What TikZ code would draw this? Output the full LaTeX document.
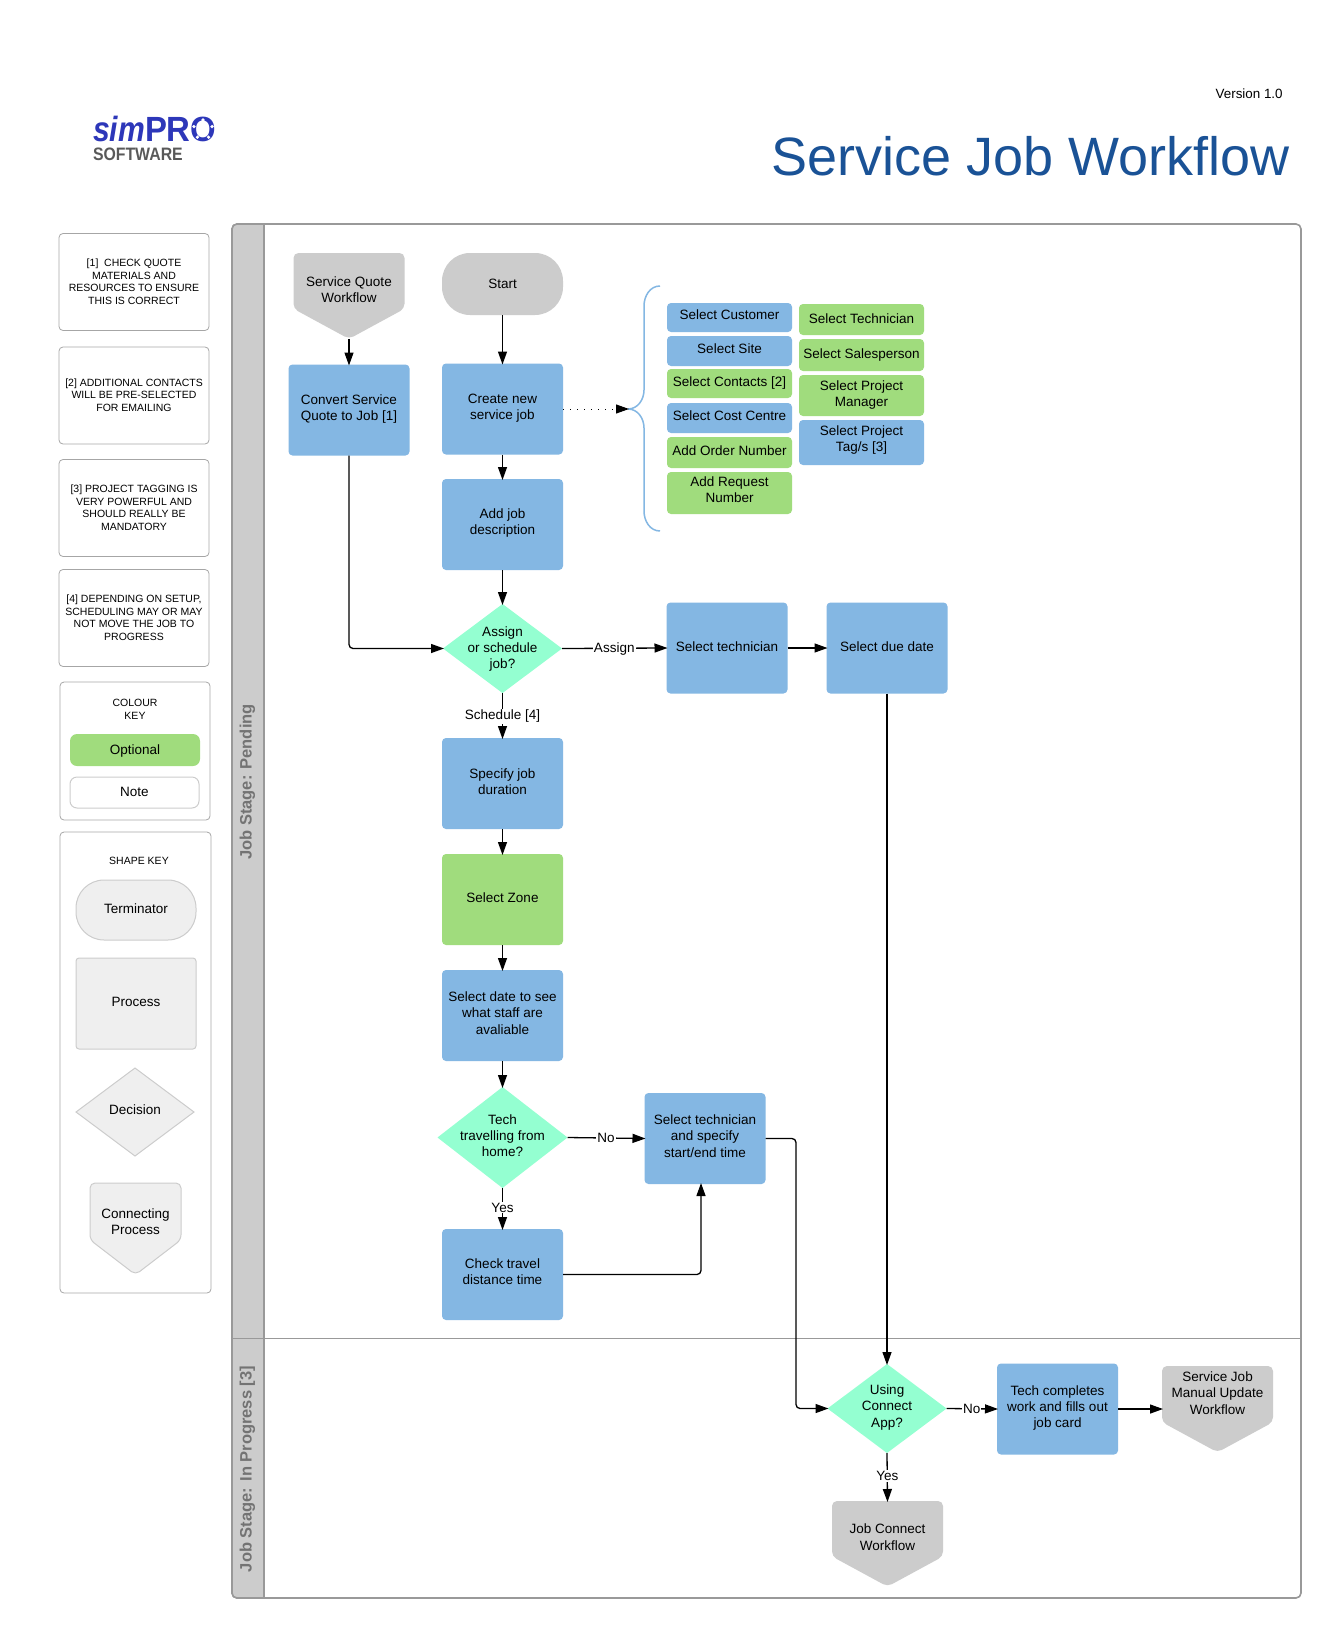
\documentclass[tikz,border=0pt]{standalone}
\usepackage{fontspec}
\setmainfont{Liberation Sans}
\usepackage{xcolor}
\usetikzlibrary{arrows.meta,shapes.geometric,shapes.symbols}
\definecolor{procblue}{RGB}{132,183,227}
\definecolor{optgreen}{RGB}{160,220,125}
\definecolor{decmint}{RGB}{148,255,209}
\definecolor{termgray}{RGB}{204,204,204}
\definecolor{keygray}{RGB}{239,239,239}
\definecolor{framegray}{RGB}{153,153,153}
\definecolor{titleblue}{RGB}{26,82,150}
\definecolor{logoblue}{RGB}{45,55,185}
\begin{document}
\begin{tikzpicture}[x=1pt,y=-1pt,
	every node/.style={outer sep=0pt,align=center,font=\fontsize{13.5}{16.2}\selectfont},
	proc/.style={rectangle,rounded corners=4pt,fill=procblue,minimum width=121pt,minimum height=91pt,text depth=5pt},
	smallbox/.style={rectangle,rounded corners=4pt,minimum width=125pt,inner sep=0pt,text depth=5pt},
	term/.style={rectangle,rounded corners=28pt,minimum width=121pt,minimum height=62pt,text depth=1pt},
	decision/.style={diamond,fill=decmint,inner sep=-22pt,minimum width=119pt,minimum height=89pt,text depth=5pt},
	connproc/.style={signal,signal to=south,signal pointer angle=123,rounded corners=5pt,fill=termgray,minimum width=111pt,minimum height=79pt,inner sep=0pt,anchor=north},
	notebox/.style={rectangle,draw=black!35,line width=.8pt,rounded corners=4pt,minimum width=150pt,minimum height=97pt,font=\fontsize{10.5}{12.5}\selectfont,text depth=1pt},
	flow/.style={draw,line width=1.3pt,shorten >=-1pt,-{Triangle[length=13pt,width=9pt]}},
	lbl/.style={fill=white,inner sep=1pt},
	lane/.style={rotate=90,text=black!55,font=\fontsize{16.5}{18}\bfseries\selectfont}]
	\useasboundingbox (0,0) rectangle (1324,1640);

	% header
	\node[anchor=east,font=\fontsize{13.4}{15}\selectfont] (version) at (1286,94) {Version 1.0};
	\node[anchor=east,text=titleblue,font=\fontsize{54}{60}\selectfont] (title) at (1293,156) {Service Job Workflow};
	\node[anchor=base west,text=logoblue,font=\fontsize{35}{35}\bfseries\itshape\selectfont,inner sep=0pt,xscale=.86] (logosim) at (93,142) {sim};
	\node[anchor=base west,text=logoblue,font=\fontsize{35}{35}\bfseries\selectfont,inner sep=0pt,xscale=.94] (logopro) at (145,142) {PRO};
	\foreach \a in {18,90,162,234,306}
		\fill[white] (203,129.5) ++(\a:-9.5) circle (1.8);
	\node[anchor=base west,text=black!65,font=\fontsize{18}{18}\bfseries\selectfont,inner sep=0pt,xscale=.88] (logosoft) at (93,161) {SOFTWARE};

	% swimlane frame
	\draw[draw=framegray,line width=1.6pt,rounded corners=5pt,fill=white] (232,224) rectangle (1301,1598);
	\draw[draw=framegray,line width=1.6pt,fill=termgray] (264,224) -- (237,224) to[out=180,in=90] (232,229) -- (232,1593) to[out=-90,in=180] (237,1598) -- (264,1598) -- cycle;
	\draw[draw=framegray,line width=1pt] (232,1338) -- (1301,1338);
	\node[lane] (pending) at (247.5,782) {Job Stage: Pending};
	\node[lane] (progress) at (247.5,1469) {Job Stage: In Progress [3]};

	% notes
	\node[notebox] (note1) at (134,282) {[1]\ \ CHECK QUOTE\\MATERIALS AND\\RESOURCES TO ENSURE\\THIS IS CORRECT};
	\node[notebox] (note2) at (134,395.5) {[2] ADDITIONAL CONTACTS\\WILL BE PRE-SELECTED\\FOR EMAILING};
	\node[notebox] (note3) at (134,508) {[3] PROJECT TAGGING IS\\VERY POWERFUL AND\\SHOULD REALLY BE\\MANDATORY};
	\node[notebox] (note4) at (134,618) {[4] DEPENDING ON SETUP,\\SCHEDULING MAY OR MAY\\NOT MOVE THE JOB TO\\PROGRESS};

	% colour key
	\node[notebox,minimum height=138pt] (colourbg) at (135,751) {};
	\node[font=\fontsize{10.5}{12.5}\selectfont] (colourkey) at (135,709.5) {COLOUR\\KEY};
	\node[rectangle,rounded corners=7pt,fill=optgreen,minimum width=130pt,minimum height=32pt,text depth=1pt] (optional) at (135,750) {Optional};
	\node[rectangle,rounded corners=7pt,draw=black!20,line width=1pt,minimum width=129pt,minimum height=31pt,text depth=2pt] (notekey) at (134.5,792.5) {Note};

	% shape key
	\node[notebox,minimum width=151pt,minimum height=461pt] (shapebg) at (135.5,1062.5) {};
	\node[font=\fontsize{10.5}{12.5}\selectfont] (shapekey) at (139,861) {SHAPE KEY};
	\node[term,fill=keygray,draw=black!20,line width=1pt,minimum width=120pt,minimum height=60pt,text depth=2pt] (termkey) at (136,910) {Terminator};
	\node[rectangle,rounded corners=3pt,fill=keygray,draw=black!20,line width=1pt,minimum width=120pt,minimum height=91pt,text depth=4pt] (prockey) at (136,1003.5) {Process};
	\node[diamond,fill=keygray,draw=black!20,line width=1pt,inner sep=-10pt,minimum width=118pt,minimum height=88pt,text depth=4pt] (deckey) at (135,1112) {Decision};
	\node[connproc,fill=keygray,draw=black!20,line width=1pt,signal pointer angle=105,minimum width=91pt,minimum height=83pt,text height=46pt] (connkey) at (135.5,1183) {Connecting\\Process};

	% pending lane
	\node[connproc,text height=44pt] (sqw) at (349,253) {Service Quote\\Workflow};
	\node[term,fill=termgray] (start) at (502.5,284) {Start};
	\node[proc] (convert) at (349,410) {Convert Service\\Quote to Job [1]};
	\node[proc] (create) at (502.5,409) {Create new\\service job};
	\node[proc,text depth=6pt] (addjob) at (502.5,524.5) {Add job\\description};
	\node[decision,text depth=2pt] (assign) at (502.5,648.5) {Assign\\or schedule\\job?};
	\node[proc,text depth=3pt] (seltech) at (727,648) {Select technician};
	\node[proc,text depth=3pt] (duedate) at (887,648) {Select due date};
	\node[proc,text depth=4pt] (duration) at (502.5,783.5) {Specify job\\duration};
	\node[proc,fill=optgreen,text depth=4pt] (zone) at (502.5,899.5) {Select Zone};
	\node[proc] (seldate) at (502.5,1015.5) {Select date to see\\what staff are\\avaliable};
	\node[decision,minimum width=130pt,minimum height=101pt,text depth=4pt] (travel) at (502.5,1137.5) {Tech\\travelling from\\home?};
	\node[proc] (startend) at (705,1138.5) {Select technician\\and specify\\start/end time};
	\node[proc,text depth=6pt] (distance) at (502.5,1274.5) {Check travel\\distance time};

	% job detail boxes
	\node[smallbox,fill=procblue,minimum height=29pt] (customer) at (729.5,317.5) {Select Customer};
	\node[smallbox,fill=procblue,minimum height=30pt,text depth=4pt] (site) at (729.5,351) {Select Site};
	\node[smallbox,fill=optgreen,minimum height=29pt,text depth=4pt] (contacts) at (729.5,383.5) {Select Contacts [2]};
	\node[smallbox,fill=procblue,minimum height=30pt] (costcentre) at (729.5,418) {Select Cost Centre};
	\node[smallbox,fill=optgreen,minimum height=31pt,text depth=3pt] (ordernum) at (729.5,452.5) {Add Order Number};
	\node[smallbox,fill=optgreen,minimum height=42pt,text depth=6pt] (requestnum) at (729.5,493) {Add Request\\Number};
	\node[smallbox,fill=optgreen,minimum height=31pt,text depth=1pt] (technician) at (861.5,319.5) {Select Technician};
	\node[smallbox,fill=optgreen,minimum height=32pt,text depth=2pt] (salesperson) at (861.5,355) {Select Salesperson};
	\node[smallbox,fill=optgreen,minimum height=41pt,text depth=3pt] (manager) at (861.5,395.5) {Select Project\\Manager};
	\node[smallbox,fill=procblue,minimum height=45pt,text depth=7pt] (tags) at (861.5,442.5) {Select Project\\Tag/s [3]};

	% brace
	\coordinate (bracetip) at (628,409);
	\draw[draw=procblue,line width=1.5pt] (660,286) to[out=180,in=90] (644,306) -- (644,390) to[out=-90,in=0] (bracetip);
	\draw[draw=procblue,line width=1.5pt] (660,531) to[out=180,in=-90] (644,511) -- (644,428) to[out=90,in=0] (bracetip);

	% in progress lane
	\node[decision] (connectapp) at (887,1408.5) {Using\\Connect\\App?};
	\node[proc] (completes) at (1057.5,1409) {Tech completes\\work and fills out\\job card};
	\node[connproc,minimum height=81pt,text depth=2pt] (manualwf) at (1217.5,1366) {Service Job\\Manual Update\\Workflow};
	\node[connproc,minimum height=76pt,text height=43pt] (connectwf) at (887.5,1501) {Job Connect\\Workflow};

	% connectors
	\draw[flow] (sqw.south) -- (convert.north);
	\draw[flow] (start.south) -- (create.north);
	\draw[flow] (create.south) -- (addjob.north);
	\draw[flow] (addjob.south) -- (assign.north);
	\draw[flow,rounded corners=4pt] (convert.south) |- (assign.west);
	\draw[flow] (assign.east) -- node[lbl,pos=.5,yshift=-.5pt] {Assign} (seltech.west);
	\draw[flow] (seltech.east) -- (duedate.west);
	\draw[flow] (duedate.south) -- (connectapp.north);
	\draw[flow] (assign.south) -- node[lbl,yshift=-1pt] {Schedule [4]} (duration.north);
	\draw[flow] (duration.south) -- (zone.north);
	\draw[flow] (zone.south) -- (seldate.north);
	\draw[flow] (seldate.south) -- (travel.north);
	\draw[flow] (travel.east) -- node[lbl] {No} (startend.west);
	\draw[flow] (travel.south) -- node[lbl,yshift=1pt] {Yes} (distance.north);
	\coordinate (startendin) at (701,1184);
	\draw[flow,rounded corners=4pt] (distance.east) -| (startendin);
	\coordinate (elbow) at (796,1408.5);
	\draw[flow,rounded corners=4pt] (startend.east) -| (elbow) -- (connectapp.west);
	\draw[flow] (connectapp.east) -- node[lbl] {No} (completes.west);
	\draw[flow] (completes.east) -- (manualwf.west |- completes.east);
	\draw[flow] (connectapp.south) -- node[lbl,yshift=1pt] {Yes} (connectwf.north);
	\draw[flow,line width=1pt,dash pattern=on 1pt off 6pt] (create.east) -- (bracetip);
\end{tikzpicture}
\end{document}
